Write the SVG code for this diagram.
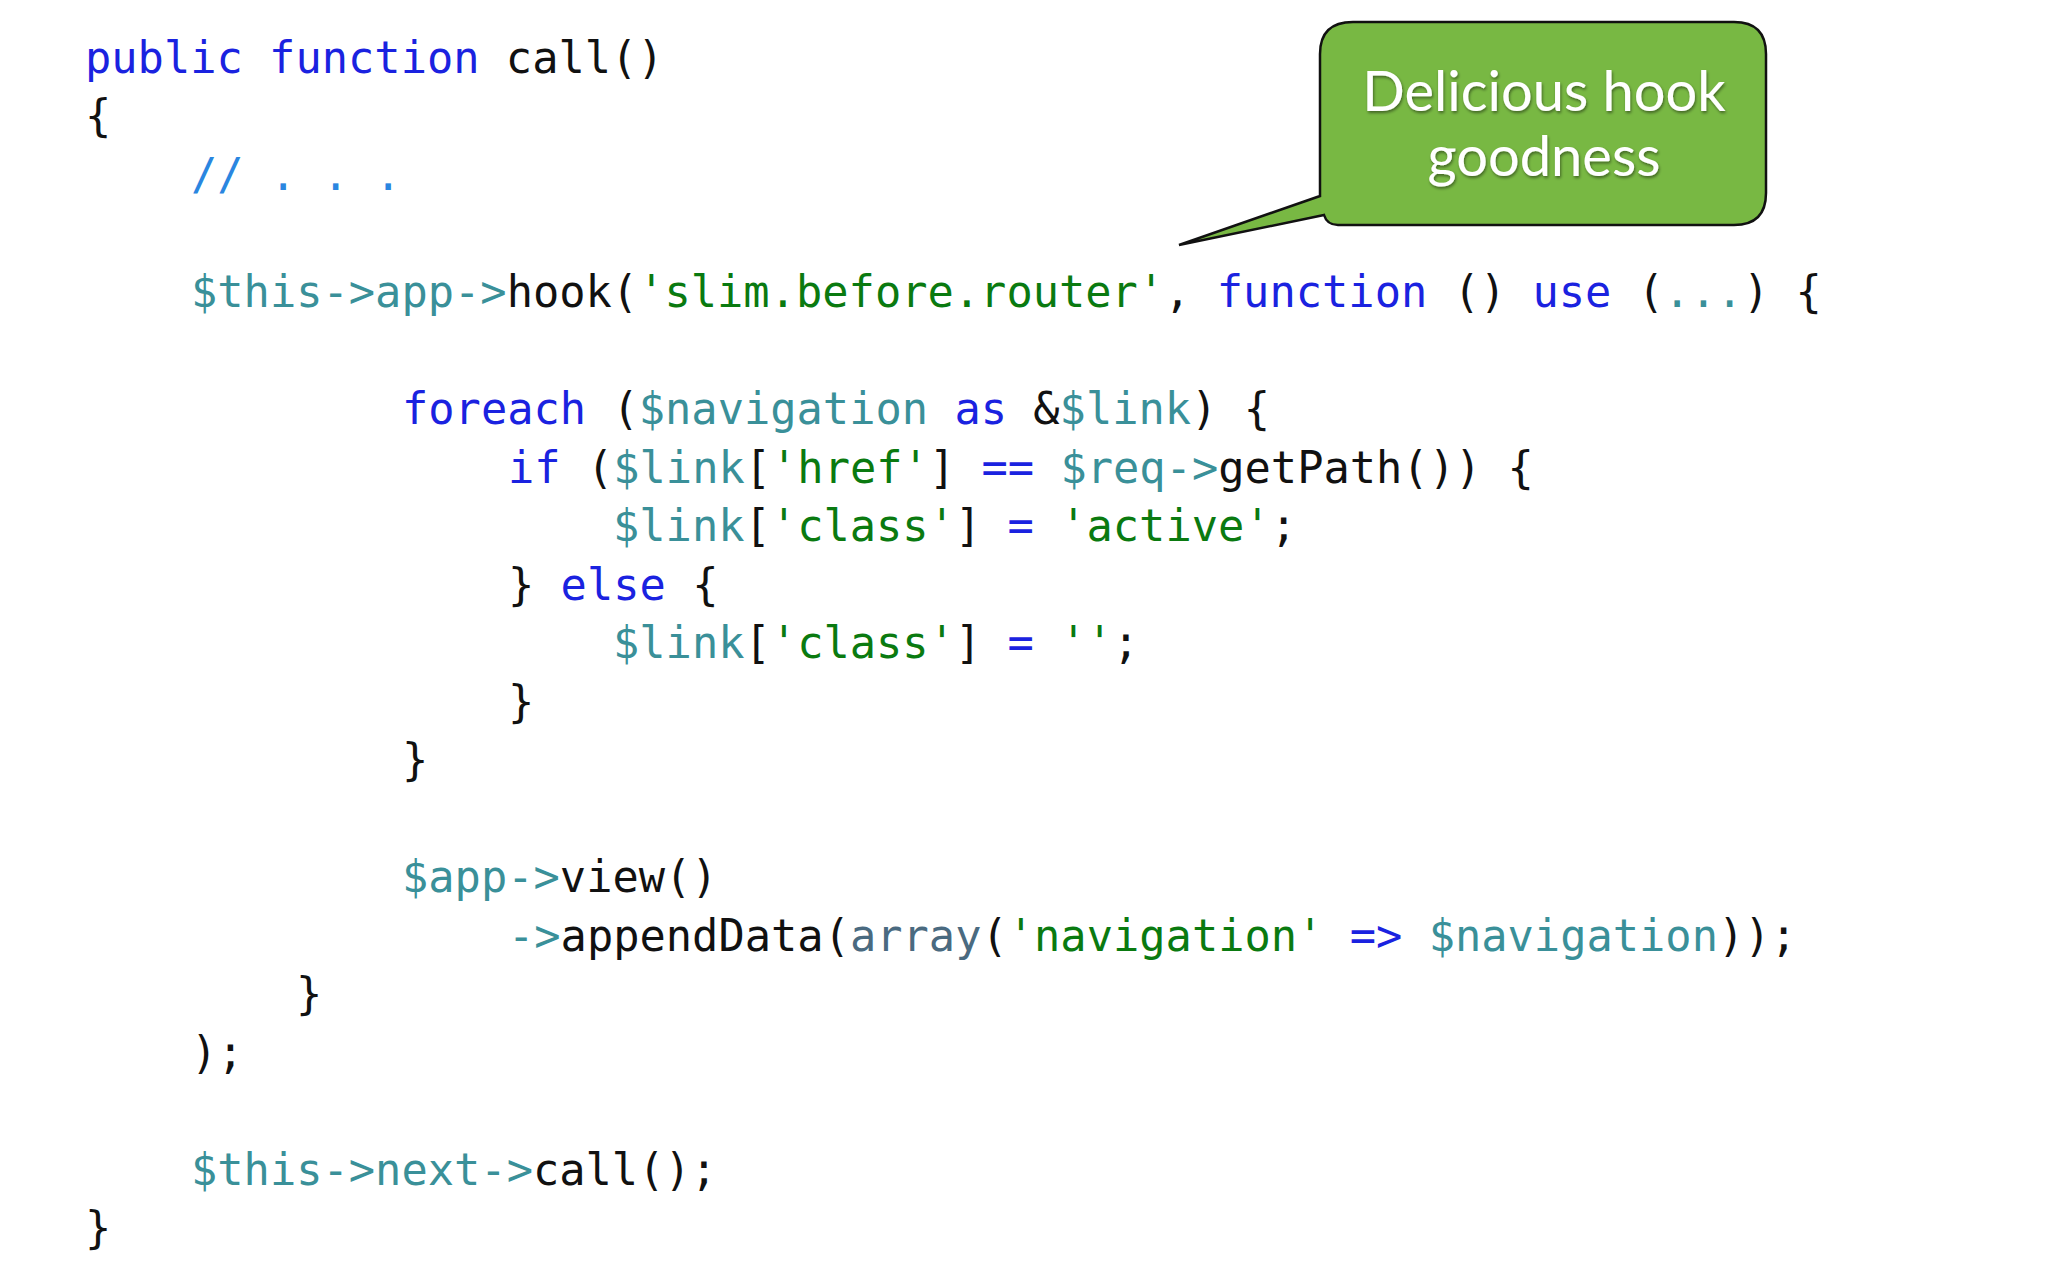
<svg xmlns="http://www.w3.org/2000/svg" width="2048" height="1280" viewBox="0 0 2048 1280">
<defs>
<style>
.c{font-family:"DejaVu Sans Mono",monospace;font-size:43.7px;fill:#111;white-space:pre}
.k{fill:#1a22e0}.v{fill:#3a9099}.s{fill:#0a7a10}.m{fill:#2a86e0}
.b{font-family:Lato,"Open Sans",sans-serif;font-size:56px;fill:#fff;text-anchor:middle}
</style>
<filter id="sh"><feDropShadow dx="1" dy="2" stdDeviation="1.5" flood-color="#000" flood-opacity="0.45"/></filter>
</defs>
<rect width="2048" height="1280" fill="#fff"/>
<g id="code">
<text class="c" x="85" y="73"><tspan class="k">public function</tspan> call()</text>
<text class="c" x="85" y="131">{</text>
<text class="c" x="191" y="190"><tspan class="m">// . . .</tspan></text>
<text class="c" x="191" y="307"><tspan class="v">$this-&gt;app-&gt;</tspan>hook(<tspan class="s">'slim.before.router'</tspan>, <tspan class="k">function</tspan> () <tspan class="k">use</tspan> (<tspan class="v">...</tspan>) {</text>
<text class="c" x="402" y="424"><tspan class="k">foreach</tspan> (<tspan class="v">$navigation</tspan> <tspan class="k">as</tspan> &amp;<tspan class="v">$link</tspan>) {</text>
<text class="c" x="508" y="483"><tspan class="k">if</tspan> (<tspan class="v">$link</tspan>[<tspan class="s">'href'</tspan>] <tspan class="k">==</tspan> <tspan class="v">$req-&gt;</tspan>getPath()) {</text>
<text class="c" x="613" y="541"><tspan class="v">$link</tspan>[<tspan class="s">'class'</tspan>] <tspan class="k">=</tspan> <tspan class="s">'active'</tspan>;</text>
<text class="c" x="508" y="600">} <tspan class="k">else</tspan> {</text>
<text class="c" x="613" y="658"><tspan class="v">$link</tspan>[<tspan class="s">'class'</tspan>] <tspan class="k">=</tspan> <tspan class="s">''</tspan>;</text>
<text class="c" x="508" y="717">}</text>
<text class="c" x="402" y="775">}</text>
<text class="c" x="402" y="892"><tspan class="v">$app-&gt;</tspan>view()</text>
<text class="c" x="508" y="951"><tspan class="v">-&gt;</tspan>appendData(<tspan fill="#4a6a80">array</tspan>(<tspan class="s">'navigation'</tspan> <tspan class="k">=&gt;</tspan> <tspan class="v">$navigation</tspan>));</text>
<text class="c" x="296" y="1009">}</text>
<text class="c" x="191" y="1068">);</text>
<text class="c" x="191" y="1185"><tspan class="v">$this-&gt;next-&gt;</tspan>call();</text>
<text class="c" x="85" y="1243">}</text>
</g>
<g id="callout">
<path d="M1353,22 H1734 Q1766,22 1766,54 V193 Q1766,225 1734,225 H1338 Q1327,225 1324,215 L1179,245 L1320,196 V54 Q1320,22 1353,22 Z" fill="#78b843" stroke="#111" stroke-width="2.5"/>
<g filter="url(#sh)">
<text class="b" x="1544" y="111">Delicious hook</text>
<text class="b" x="1544" y="176">goodness</text>
</g>
</g>
</svg>
